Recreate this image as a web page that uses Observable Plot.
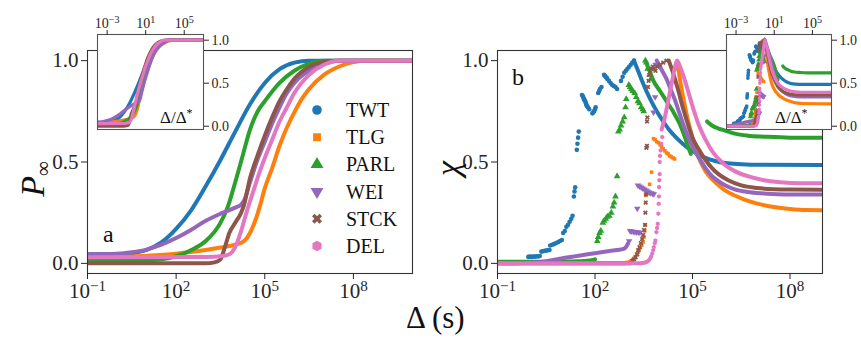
<!DOCTYPE html>
<html><head><meta charset="utf-8">
<script src="https://cdn.jsdelivr.net/npm/d3@7"></script>
<script src="https://cdn.jsdelivr.net/npm/@observablehq/plot@0.6"></script>
<style>
body{margin:0;background:#fff;}
#fig{position:relative;width:861px;height:343px;overflow:hidden;background:#fff;font-family:"Liberation Serif",serif;color:#111;}
.lab{position:absolute;white-space:nowrap;line-height:1;font-family:"Liberation Serif",serif;}
</style></head><body><div id="fig"></div>
<script>
// ---------- data ----------
const series = ["TWT","TLG","PARL","WEI","STCK","DEL"];
const colors = ["#1f77b4","#ff7f0e","#2ca02c","#9467bd","#8c564b","#e377c2"];
// log10 of Δ* (position of the χ peak), used for the insets (Δ/Δ*)
const logDeltaStar = [3.2, 4.52, 3.55, 3.9, 4.27, 4.5];
const xTicksMain = [1e-1, 1e2, 1e5, 1e8];
const xTicksInset = [1e-3, 1e1, 1e5];
const yTicks = [0, 0.5, 1];

// panel a : [log10 Δ, P∞]
const pTWT = [[-1,0.045],[0,0.045],[0.5,0.05],[1.0,0.066],[1.5,0.103],[2.0,0.17],[2.5,0.26],[3.0,0.38],[3.5,0.51],[4.0,0.65],[4.5,0.785],[5.0,0.89],[5.5,0.958],[6.0,0.99],[6.5,1.0],[12,1.0]];
const pTLG = [[-1,0.03],[0,0.032],[1,0.038],[2,0.048],[2.5,0.056],[3,0.066],[3.5,0.078],[4.0,0.092],[4.3,0.11],[4.5,0.15],[4.7,0.22],[4.85,0.29],[5.0,0.37],[5.25,0.47],[5.5,0.58],[5.75,0.67],[6.0,0.745],[6.25,0.81],[6.5,0.86],[7.0,0.93],[7.5,0.97],[8.0,0.993],[8.5,1.0],[12,1.0]];
const pPARL = [[-1,0.015],[1.0,0.015],[1.5,0.02],[2.0,0.035],[2.5,0.065],[3.0,0.11],[3.5,0.20],[3.75,0.28],[4.0,0.40],[4.25,0.53],[4.5,0.66],[4.8,0.76],[5.0,0.80],[5.5,0.89],[6.0,0.95],[6.5,0.985],[7.0,1.0],[12,1.0]];
const pWEI = [[-1,0.045],[0,0.048],[0.5,0.055],[1.0,0.068],[1.5,0.092],[2.0,0.125],[2.5,0.165],[3.0,0.21],[3.5,0.245],[4.0,0.275],[4.2,0.29],[4.3,0.31],[4.5,0.40],[4.75,0.51],[5.0,0.60],[5.25,0.69],[5.5,0.77],[5.75,0.84],[6.0,0.89],[6.5,0.95],[7.0,0.985],[7.5,1.0],[12,1.0]];
const pSTCK = [[-1,0],[3.0,0],[3.3,0.005],[3.5,0.02],[3.65,0.08],[3.8,0.15],[4.0,0.20],[4.2,0.25],[4.3,0.29],[4.5,0.42],[4.75,0.53],[5.0,0.63],[5.25,0.72],[5.5,0.80],[5.75,0.86],[6.0,0.91],[6.5,0.97],[7.0,0.995],[7.5,1.0],[12,1.0]];
const pDEL = [[-1,0.03],[3.0,0.032],[3.5,0.035],[3.8,0.045],[4.0,0.08],[4.2,0.16],[4.4,0.26],[4.6,0.35],[4.8,0.44],[5.0,0.52],[5.25,0.61],[5.5,0.70],[5.75,0.77],[6.0,0.84],[6.5,0.93],[7.0,0.98],[7.5,1.0],[12,1.0]];

// panel b : [log10 Δ, χ]  (line segments and scattered points)
const chiLinesTWT = [[[3.2,1.0],[3.35,0.94],[3.5,0.88],[3.7,0.81],[3.9,0.75],[4.1,0.70],[4.3,0.655],[4.5,0.62],[4.7,0.59],[4.9,0.565],[5.1,0.545],[5.4,0.52],[5.7,0.505],[6.0,0.495],[6.5,0.489],[7,0.486],[12,0.485]]];
const chiDotsTWT = [[-0.05,0.032],[0.0,0.033],[0.05,0.032],[0.1,0.034],[0.15,0.033],[0.2,0.035],[0.25,0.034],[0.3,0.036],
 [0.35,0.058],[0.4,0.06],[0.45,0.062],[0.5,0.063],[0.55,0.065],[0.6,0.066],
 [0.62,0.088],[0.68,0.092],[0.74,0.095],[0.8,0.10],[0.86,0.104],[0.92,0.11],[0.98,0.115],
 [1.02,0.15],[1.07,0.16],[1.12,0.18],[1.17,0.19],[1.22,0.205],[1.27,0.22],[1.31,0.235],
 [1.35,0.33],[1.37,0.355],[1.39,0.375],
 [1.44,0.56],[1.46,0.59],[1.48,0.62],[1.5,0.65],
 [1.6,0.83],[1.62,0.825],[1.64,0.82],[1.66,0.81],[1.68,0.805],[1.7,0.8],[1.72,0.79],[1.74,0.78],[1.76,0.775],[1.78,0.77],[1.82,0.76],
 [1.92,0.74],[1.95,0.745],[1.97,0.75],[2.0,0.76],[2.02,0.77],
 [2.1,0.84],[2.13,0.85],[2.15,0.86],[2.2,0.87],
 [2.28,0.93],[2.3,0.925],[2.33,0.92],[2.36,0.915],[2.38,0.91],[2.43,0.9],[2.48,0.89],[2.53,0.88],[2.58,0.875],[2.63,0.87],[2.68,0.86],
 [2.8,0.9],[2.85,0.92],[2.9,0.94],[2.95,0.95],[3.0,0.96],[3.05,0.97],[3.1,0.98],[3.15,0.99],[3.2,1.0]];

const chiLinesTLG = [[[-1,0],[2.8,0],[3.0,0.004],[3.1,0.01]],
 [[4.5,0.96],[4.53,1.0],[4.6,0.92],[4.7,0.83],[4.8,0.75],[4.9,0.68],[5.0,0.62],[5.1,0.565],[5.25,0.50],[5.4,0.455],[5.6,0.415],[5.8,0.385],[6.0,0.36],[6.3,0.335],[6.6,0.315],[7.0,0.295],[7.5,0.278],[8,0.268],[8.5,0.263],[12,0.26]]];
const chiDotsTLG = [[3.12,0.012],[3.16,0.018],[3.2,0.025],[3.24,0.033],[3.28,0.045],[3.32,0.055],[3.36,0.065],[3.4,0.078],[3.44,0.09],[3.48,0.105],[3.51,0.13],[3.53,0.16],[3.54,0.19],[3.56,0.335],[3.6,0.345],[3.68,0.39],[3.74,0.45],
 [3.8,0.615],[3.85,0.61],[3.9,0.60],[3.95,0.595],[4.0,0.585],[4.05,0.575],[4.1,0.565],[4.15,0.555],[4.2,0.545],[4.25,0.54],[4.3,0.53],[4.35,0.525],[4.4,0.52],[4.45,0.515]];

const chiLinesPARL = [[[-1,0.008],[1.0,0.008],[1.5,0.01],[1.9,0.015],[2.0,0.02]],
 [[3.6,0.98],[3.7,0.94],[3.8,0.90],[4.0,0.85],[4.2,0.80],[4.4,0.75],[4.6,0.69],[4.75,0.63],[4.9,0.56],[4.95,0.54]],
 [[5.45,0.70],[5.6,0.68],[5.8,0.665],[6.0,0.655],[6.3,0.64],[6.7,0.63],[7.2,0.625],[8,0.62],[12,0.62]]];
const chiDotsPARL = [[2.07,0.11],[2.1,0.13],[2.14,0.15],[2.18,0.16],[2.24,0.2],[2.28,0.21],[2.33,0.22],[2.38,0.23],[2.44,0.235],[2.5,0.25],[2.55,0.28],[2.59,0.3],[2.63,0.33],[2.68,0.43],[2.72,0.65],[2.76,0.66],[2.8,0.68],[2.85,0.70],[2.9,0.72],[2.94,0.77],[2.96,0.81],[3.04,0.88],[3.08,0.87],[3.12,0.86],[3.16,0.85],[3.22,0.84],[3.27,0.82],[3.32,0.80],[3.37,0.79],[3.42,0.77],[3.47,0.76],[3.5,0.75],[3.55,1.0],[3.58,0.99],[3.62,0.96],[3.68,0.93],[3.72,0.91]];

const chiLinesWEI = [[[-1,0],[0,0.003],[0.5,0.01],[1.0,0.025],[1.5,0.038],[2.0,0.05],[2.5,0.062],[2.85,0.07],[2.95,0.08],[3.02,0.1]],
 [[3.9,1.0],[4.0,0.97],[4.1,0.94],[4.2,0.91],[4.3,0.87],[4.45,0.81],[4.6,0.74],[4.75,0.67],[4.9,0.61],[5.05,0.56],[5.2,0.52],[5.4,0.47],[5.6,0.43],[5.8,0.405],[6.0,0.385],[6.3,0.365],[6.7,0.352],[7.2,0.345],[8,0.34],[12,0.34]]];
const chiDotsWEI = [[3.05,0.11],[3.08,0.16],[3.13,0.158],[3.18,0.157],[3.23,0.155],[3.28,0.155],[3.33,0.153],[3.38,0.152],[3.3,0.27],[3.32,0.385],[3.37,0.38],[3.42,0.375],[3.47,0.37],[3.52,0.365],[3.57,0.36],[3.62,0.355],[3.67,0.35],[3.72,0.347],[3.77,0.344],[3.81,0.342],[3.8,0.745],[3.85,0.82],[3.86,0.98]];

const chiLinesSTCK = [[[-1,0],[3.1,0],[3.15,0.005]],
 [[4.27,1.0],[4.4,0.94],[4.55,0.86],[4.7,0.77],[4.85,0.69],[5.0,0.62],[5.2,0.56],[5.4,0.51],[5.6,0.47],[5.8,0.44],[6.1,0.41],[6.5,0.385],[7,0.372],[7.5,0.366],[8,0.364],[12,0.363]]];
const chiDotsSTCK = [[3.15,0.012],[3.2,0.02],[3.25,0.03],[3.3,0.045],[3.33,0.065],[3.37,0.08],[3.41,0.1],[3.45,0.12],[3.48,0.14],[3.51,0.165],[3.54,0.19],[3.55,0.25],[3.56,0.30],[3.57,0.34],[3.58,0.57],[3.6,0.58],[3.6,0.70],[3.61,0.72],[3.63,0.87],[3.65,0.9],[3.67,0.93],[3.7,0.95],[3.74,0.96],[3.78,0.97],[3.82,0.96],[3.86,0.95],[3.92,0.97],[4.0,0.98],[4.1,0.99],[4.2,1.0]];

const chiLinesDEL = [[[-1,0],[3.3,0],[3.5,0.003],[3.6,0.008],[3.68,0.02],[3.73,0.035]],
 [[4.05,0.66],[4.15,0.72],[4.25,0.80],[4.35,0.88],[4.45,0.96],[4.52,1.0],[4.62,0.97],[4.75,0.91],[4.9,0.83],[5.05,0.75],[5.2,0.68],[5.4,0.61],[5.6,0.555],[5.8,0.515],[6.0,0.485],[6.3,0.455],[6.7,0.43],[7.2,0.41],[7.7,0.40],[8.3,0.395],[12,0.393]]];
const chiDotsDEL = [[3.76,0.048],[3.79,0.065],[3.81,0.08],[3.84,0.1],[3.86,0.113],[3.89,0.154],[3.91,0.175],[3.93,0.195],[3.95,0.245],[3.96,0.294],[3.965,0.33],[3.97,0.376],[3.98,0.41],[3.99,0.44],[3.99,0.50],[4.0,0.53],[4.02,0.557],[4.04,0.59],[4.07,0.623]];

const pData = [pTWT,pTLG,pPARL,pWEI,pSTCK,pDEL];
const chiLines = [chiLinesTWT,chiLinesTLG,chiLinesPARL,chiLinesWEI,chiLinesSTCK,chiLinesDEL];
const chiDots = [chiDotsTWT,chiDotsTLG,chiDotsPARL,chiDotsWEI,chiDotsSTCK,chiDotsDEL];

// ---------- symbols ----------
const sqrt3 = Math.sqrt(3);
const symTriDown = {draw(c, s){ const y = -Math.sqrt(s/(sqrt3*3)); c.moveTo(0,-2*y); c.lineTo(sqrt3*y, y); c.lineTo(-sqrt3*y, y); c.closePath(); }};
const symX = {draw(c, s){ const r = Math.sqrt(s)*0.62, w = r*0.34;
  const pts = [[-w,-r],[w,-r],[w,-w],[r,-w],[r,w],[w,w],[w,r],[-w,r],[-w,w],[-r,w],[-r,-w],[-w,-w]].map(([x,y])=>[(x-y)/Math.SQRT2,(x+y)/Math.SQRT2]);
  c.moveTo(pts[0][0],pts[0][1]); for (const p of pts.slice(1)) c.lineTo(p[0],p[1]); c.closePath(); }};
const symHex = {draw(c, s){ const r = Math.sqrt(s/(1.5*sqrt3)); for(let i=0;i<6;i++){const a=Math.PI/3*i-Math.PI/2; const x=r*Math.cos(a), y=r*Math.sin(a); if(i) c.lineTo(x,y); else c.moveTo(x,y);} c.closePath(); }};
const symbols = [d3.symbolCircle, d3.symbolSquare, d3.symbolTriangle, symTriDown, symX, symHex];
const dotR = [2.3, 2.0, 2.5, 2.4, 2.3, 2.1];

// ---------- helpers ----------
const FONT = "Liberation Serif";
const fig = document.getElementById("fig");
const powFmt = d => "10^" + Math.round(Math.log10(d));
function fixText(root){
  root.setAttribute("font-family", FONT);
  d3.select(root).selectAll("g").attr("font-family", FONT);
  d3.select(root).selectAll("text").each(function(){
    this.setAttribute("font-family", FONT);
    const m = this.textContent.match(/^10\^(.+)$/);
    if (!m) return;
    this.textContent = "";
    const s = d3.select(this);
    s.append("tspan").attr("font-family", FONT).text("10");
    s.append("tspan").attr("font-family", FONT).attr("dy","-0.48em").attr("font-size","0.72em").text(m[1].replace("-","\u2212"));
  });
}
function place(el, left, top){
  el.style.position = "absolute"; el.style.left = left+"px"; el.style.top = top+"px";
  el.style.background = "transparent"; el.style.overflow = "visible";
  fixText(el);
  fig.appendChild(el);
}
function lineMarks(shift, sw){
  return pData.map((arr,i)=>Plot.line(arr,{x:d=>10**(d[0]-(shift?logDeltaStar[i]:0)), y:d=>d[1], stroke:colors[i], strokeWidth:sw, curve:"monotone-x", clip:true}));
}
function chiMarks(shift, sw, rs){
  const marks = [];
  series.forEach((s,i)=>{
    const off = shift ? logDeltaStar[i] : 0;
    chiLines[i].forEach(seg=>marks.push(Plot.line(seg,{x:d=>10**(d[0]-off), y:d=>d[1], stroke:colors[i], strokeWidth:sw, curve:"monotone-x", clip:true})));
    marks.push(Plot.dot(chiDots[i],{x:d=>10**(d[0]-off), y:d=>d[1], fill:colors[i], stroke:"none", symbol:symbols[i], r:dotR[i]*rs, clip:true}));
  });
  return marks;
}
function mainPanel(xmax, marksFn, ml, mr, width){
  return Plot.plot({
    width, height:343, marginLeft:ml, marginRight:mr, marginTop:50, marginBottom:70,
    style:{background:"transparent", color:"#262626", overflow:"visible"},
    x:{type:"log", domain:[0.1, xmax]},
    y:{domain:[-0.05,1.05]},
    marks:[
      ...marksFn(),
      Plot.frame({stroke:"#333", strokeWidth:1.1}),
      Plot.axisX({ticks:xTicksMain, tickFormat:powFmt, tickSize:6, tickPadding:4, fontSize:21, fontFamily:FONT, label:null}),
      Plot.axisY({ticks:yTicks, tickFormat:d3.format(".1f"), tickSize:6, tickPadding:3, fontSize:21, fontFamily:FONT, label:null})
    ]
  });
}
function inset(marksFn, mr, width){
  return Plot.plot({
    width, height:133, marginLeft:2, marginRight:mr, marginTop:34, marginBottom:4,
    style:{background:"transparent", color:"#262626", overflow:"visible"},
    x:{type:"log", domain:[1e-4, 1e7]},
    y:{domain:[-0.038,1.066]},
    marks:[
      Plot.frame({fill:"white", stroke:null}),
      ...marksFn(),
      Plot.frame({stroke:"#555", strokeWidth:1.1}),
      Plot.axisX({anchor:"top", ticks:xTicksInset, tickFormat:powFmt, tickSize:5, tickPadding:2, fontSize:14, fontFamily:FONT, label:null}),
      Plot.axisY({anchor:"right", ticks:yTicks, tickFormat:d3.format(".1f"), tickSize:5, tickPadding:3, fontSize:14, fontFamily:FONT, label:null})
    ]
  });
}

// ---------- panels ----------
place(mainPanel(1e10, ()=>lineMarks(false, 4), 87, 18, 430), 0, 0);
place(mainPanel(1e9, ()=>chiMarks(false, 4, 1), 67, 39, 431), 430, 0);
place(inset(()=>lineMarks(true, 3.2), 47, 155), 95, 0);
place(inset(()=>chiMarks(true, 3.2, 0.8), 30, 137), 724, 0);

// ---------- legend markers (svg) ----------
const ov = d3.create("svg").attr("width",861).attr("height",343);
series.forEach((s,i)=>{
  const y = 110 + i*27.2;
  ov.append("path").attr("transform",`translate(317,${y})`).attr("d",d3.symbol(symbols[i], i===1?62:72)()).attr("fill",colors[i]);
});
const ovn = ov.node();
ovn.style.position="absolute"; ovn.style.left="0px"; ovn.style.top="0px";
fig.appendChild(ovn);

// ---------- HTML labels ----------
function lab(html, left, top, size, extra){
  const d = document.createElement("div");
  d.className = "lab";
  d.style.left = left+"px"; d.style.top = top+"px"; d.style.fontSize = size+"px";
  if (extra) d.style.cssText += extra;
  d.innerHTML = html;
  fig.appendChild(d);
  return d;
}
series.forEach((s,i)=>{ lab(s, 346, 110 + i*27.2 - 10, 20); });
lab("a", 103, 222, 24);
lab("b", 512, 65, 24);
lab("\u0394 (s)", 406, 302, 31);
lab("\u0394/\u0394<sup style=\"font-size:0.7em;vertical-align:0.5em\">*</sup>", 160, 108, 17);
lab("\u0394/\u0394<sup style=\"font-size:0.7em;vertical-align:0.5em\">*</sup>", 775, 108, 17);
// rotated y labels
lab("<i>P</i><sub style=\"font-size:0.62em;vertical-align:-0.25em\">\u221e</sub>", 35, 161, 34, "transform:translate(-100%,-50%) rotate(-90deg);transform-origin:100% 50%;");
lab("<i>\u03c7</i>", 448, 161, 34, "transform:translate(-100%,-50%) rotate(-90deg);transform-origin:100% 50%;");
</script></body></html>
